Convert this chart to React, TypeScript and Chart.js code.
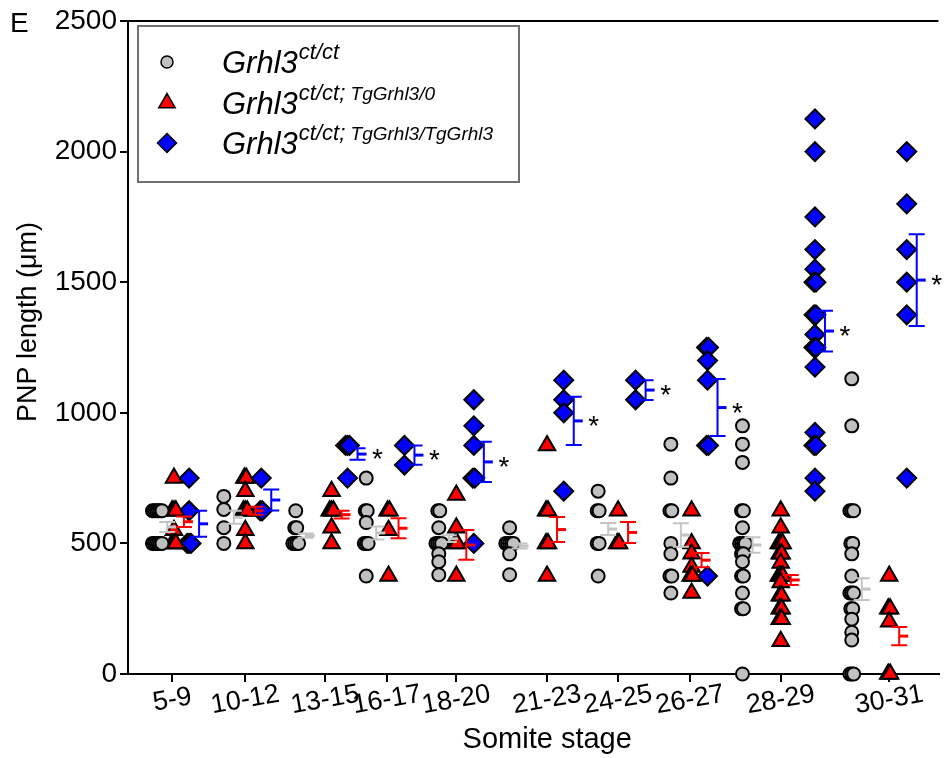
import React, { useEffect, useRef } from 'react';
import { Chart, registerables } from 'chart.js';

Chart.register(...registerables);

// ---------------- data ----------------
const stages = ['5-9', '10-12', '13-15', '16-17', '18-20', '21-23', '24-25', '26-27', '28-29', '30-31'];

// Grhl3 ct/ct (gray circles), PNP length in µm
const grayValues: number[][] = [
  [625, 625, 625, 625, 625, 625, 500, 500, 500, 500, 500, 500],
  [680, 630, 560, 500],
  [625, 560, 560, 500, 500, 500, 500],
  [750, 625, 625, 580, 500, 500, 500, 375],
  [625, 625, 560, 500, 500, 500, 500, 460, 430, 380],
  [560, 500, 500, 500, 500, 500, 460, 380],
  [700, 625, 625, 500, 500, 375],
  [880, 750, 625, 625, 500, 460, 375, 375, 310],
  [950, 880, 810, 625, 625, 560, 500, 500, 500, 500, 460, 460, 430, 375, 375, 310, 250, 250, 0],
  [1130, 950, 625, 625, 625, 500, 500, 460, 375, 310, 310, 310, 250, 250, 210, 160, 130, 0, 0, 0],
];
// Grhl3 ct/ct; TgGrhl3/0 (red triangles)
const redValues: number[][] = [
  [750, 625, 625, 625, 550, 500, 500, 500],
  [750, 750, 700, 625, 625, 625, 550, 500],
  [700, 625, 625, 625, 560, 500],
  [625, 625, 550, 375],
  [685, 560, 500, 500, 375],
  [875, 625, 625, 500, 500, 375],
  [625, 500, 500],
  [625, 500, 460, 410, 375, 375, 310],
  [625, 560, 500, 500, 500, 460, 460, 425, 375, 375, 375, 350, 300, 300, 250, 250, 210, 210, 125],
  [375, 250, 250, 200, 0, 0],
];
// Grhl3 ct/ct; TgGrhl3/TgGrhl3 (blue diamonds)
const blueValues: number[][] = [
  [750, 625, 500, 500, 500],
  [750, 625, 625],
  [875, 875, 875, 750],
  [875, 800],
  [1050, 950, 875, 750, 750, 500],
  [1125, 1050, 1000, 700],
  [1125, 1050],
  [1250, 1250, 1200, 1125, 875, 875, 375],
  [2125, 2000, 1750, 1625, 1550, 1500, 1500, 1375, 1375, 1300, 1250, 1250, 1175, 925, 875, 875, 750, 700],
  [2000, 1800, 1625, 1500, 1375, 750],
];

// mean ± SEM as drawn in the reference
const grayMean = [563, 600, 530, 540, 518, 490, 555, 532, 494, 325];
const graySem = [19, 25, 8, 25, 13, 10, 23, 45, 30, 42];
const redMean = [583, 625, 610, 558, 494, 553, 542, 436, 360, 145];
const redSem = [20, 15, 15, 38, 57, 48, 40, 27, 19, 35];
const blueMean = [575, 666, 842, 838, 812, 969, 1087, 1020, 1313, 1508];
const blueSem = [50, 40, 22, 37, 77, 92, 38, 109, 78, 176];
const blueSignificant = [false, false, true, true, true, true, true, true, true, true];

const yTicks = [0, 500, 1000, 1500, 2000, 2500];

// ---------------- layout (axis units / styles) ----------------
const stageCenter = [0, 0.916, 1.919, 2.694, 3.565, 4.704, 5.596, 6.499, 7.638, 9.0];
const grayShift = [-0.19, -0.27, -0.37, -0.26, -0.22, -0.47, -0.25, -0.24, -0.48, -0.47];
const redShift = [0.02, 0, 0.08, 0.02, 0, 0, 0, 0.02, 0, 0];
const blueShift = [0.21, 0.2, 0.28, 0.22, 0.22, 0.21, 0.22, 0.22, 0.43, 0.22];
const X_MIN = -0.557;
const X_MAX = 9.619;
const STACK_STEP = 0.024;

const GRAY = '#c0c0c0';
const RED = '#ff0000';
const BLUE = '#0000ff';
const GRAY_BAR = '#c4c4c4';
const FONT = '"Liberation Sans", Arial, Helvetica, sans-serif';

function stackOffsets(values: number[]): number[] {
  const counts = new Map<number, number>();
  values.forEach((v) => counts.set(v, (counts.get(v) || 0) + 1));
  const seen = new Map<number, number>();
  return values.map((v) => {
    const n = counts.get(v) || 1;
    const k = seen.get(v) || 0;
    seen.set(v, k + 1);
    return (k - (n - 1) / 2) * STACK_STEP;
  });
}

function buildPoints(groups: number[][], shift: number[]) {
  const pts: { x: number; y: number }[] = [];
  groups.forEach((vals, i) => {
    const offs = stackOffsets(vals);
    vals.forEach((v, j) => pts.push({ x: stageCenter[i] + shift[i] + offs[j], y: v }));
  });
  return pts;
}

const errorGroups = [
  { mean: grayMean, sem: graySem, shift: grayShift, color: GRAY_BAR, sig: null as boolean[] | null },
  { mean: redMean, sem: redSem, shift: redShift, color: RED, sig: null as boolean[] | null },
  { mean: blueMean, sem: blueSem, shift: blueShift, color: BLUE, sig: blueSignificant },
];

const errorBarPlugin = {
  id: 'errorBars',
  afterDatasetsDraw(chart: any) {
    const { ctx } = chart;
    const xs = chart.scales.x;
    const ys = chart.scales.y;
    ctx.save();
    errorGroups.forEach((g) => {
      g.mean.forEach((m, i) => {
        const cx = xs.getPixelForValue(stageCenter[i] + g.shift[i]) + 10;
        const yT = ys.getPixelForValue(m + g.sem[i]);
        const yB = ys.getPixelForValue(m - g.sem[i]);
        const yM = ys.getPixelForValue(m);
        ctx.strokeStyle = g.color;
        ctx.lineWidth = 2;
        ctx.beginPath();
        ctx.moveTo(cx, yT);
        ctx.lineTo(cx, yB);
        ctx.moveTo(cx - 8, yT);
        ctx.lineTo(cx + 8, yT);
        ctx.moveTo(cx - 8, yB);
        ctx.lineTo(cx + 8, yB);
        ctx.stroke();
        ctx.lineWidth = 3;
        ctx.beginPath();
        ctx.moveTo(cx, yM);
        ctx.lineTo(cx + 9, yM);
        ctx.stroke();
        if (g.sig && g.sig[i]) {
          ctx.fillStyle = '#000';
          ctx.font = `28px ${FONT}`;
          ctx.textAlign = 'center';
          ctx.textBaseline = 'alphabetic';
          ctx.fillText('*', cx + 20, yM + 14);
        }
      });
    });
    ctx.restore();
  },
};

const legendItems = [
  { shape: 'circle', fill: GRAY, sup1: 'ct/ct', sup2: '' },
  { shape: 'triangle', fill: RED, sup1: 'ct/ct;', sup2: ' TgGrhl3/0' },
  { shape: 'diamond', fill: BLUE, sup1: 'ct/ct;', sup2: ' TgGrhl3/TgGrhl3' },
];

function drawMarker(ctx: CanvasRenderingContext2D, shape: string, x: number, y: number, fill: string) {
  ctx.beginPath();
  if (shape === 'circle') {
    ctx.arc(x, y, 6, 0, Math.PI * 2);
  } else if (shape === 'triangle') {
    const r = 9.5;
    ctx.moveTo(x, y - r);
    ctx.lineTo(x + r * Math.sin((2 * Math.PI) / 3), y + r * 0.5);
    ctx.lineTo(x - r * Math.sin((2 * Math.PI) / 3), y + r * 0.5);
    ctx.closePath();
  } else {
    const r = 9.5;
    ctx.moveTo(x, y - r);
    ctx.lineTo(x + r, y);
    ctx.lineTo(x, y + r);
    ctx.lineTo(x - r, y);
    ctx.closePath();
  }
  ctx.fillStyle = fill;
  ctx.fill();
  ctx.lineWidth = 1.5;
  ctx.strokeStyle = '#000';
  ctx.stroke();
}

const decorPlugin = {
  id: 'decor',
  afterDraw(chart: any) {
    const { ctx, chartArea } = chart;
    const xs = chart.scales.x;
    ctx.save();
    // top frame line
    ctx.strokeStyle = '#000';
    ctx.lineWidth = 2;
    ctx.beginPath();
    ctx.moveTo(chartArea.left, chartArea.top);
    ctx.lineTo(chartArea.right, chartArea.top);
    ctx.stroke();

    // panel letter
    ctx.fillStyle = '#000';
    ctx.font = `28px ${FONT}`;
    ctx.textAlign = 'left';
    ctx.textBaseline = 'alphabetic';
    ctx.fillText('E', 10, 32);

    // y title
    ctx.save();
    ctx.translate(29, 322);
    ctx.rotate(-Math.PI / 2);
    ctx.font = `27px ${FONT}`;
    ctx.textAlign = 'center';
    ctx.textBaseline = 'middle';
    ctx.fillText('PNP length (\u03bcm)', 0, 0);
    ctx.restore();

    // x tick labels (slanted)
    ctx.font = `27px ${FONT}`;
    ctx.textAlign = 'center';
    ctx.textBaseline = 'middle';
    stages.forEach((s, i) => {
      const x = xs.getPixelForValue(stageCenter[i]);
      ctx.save();
      ctx.translate(x, chartArea.bottom + 26);
      ctx.rotate((-10 * Math.PI) / 180);
      ctx.fillText(s, 0, 0);
      ctx.restore();
    });

    // x title
    ctx.font = `29px ${FONT}`;
    ctx.textAlign = 'center';
    ctx.textBaseline = 'alphabetic';
    ctx.fillText('Somite stage', (chartArea.left + chartArea.right) / 2 + 14, 748);

    // legend box
    ctx.fillStyle = '#fff';
    ctx.fillRect(138, 26, 381, 156);
    ctx.strokeStyle = '#707070';
    ctx.lineWidth = 2;
    ctx.strokeRect(138, 26, 381, 156);
    const rows = [62, 103, 143];
    legendItems.forEach((it, k) => {
      const y = rows[k];
      drawMarker(ctx, it.shape, 167, y, it.fill);
      ctx.fillStyle = '#000';
      ctx.textAlign = 'left';
      ctx.textBaseline = 'alphabetic';
      ctx.font = `italic 31px ${FONT}`;
      const base = y + 11;
      ctx.fillText('Grhl3', 222, base);
      let x = 222 + ctx.measureText('Grhl3').width + 1;
      ctx.font = `italic 22px ${FONT}`;
      ctx.fillText(it.sup1, x, base - 14);
      x += ctx.measureText(it.sup1).width;
      if (it.sup2) {
        ctx.font = `italic 19px ${FONT}`;
        ctx.fillText(it.sup2, x, base - 14);
      }
    });
    ctx.restore();
  },
};

export default function App() {
  const canvasRef = useRef<HTMLCanvasElement | null>(null);

  useEffect(() => {
    const canvas = canvasRef.current;
    if (!canvas) return;
    const common = { borderColor: '#000', borderWidth: 2, clip: false as any, showLine: false };
    const chart = new Chart(canvas, {
      type: 'scatter',
      data: {
        datasets: [
          {
            label: 'Grhl3 ct/ct',
            data: buildPoints(grayValues, grayShift),
            pointStyle: 'circle',
            pointRadius: 6.5,
            pointBackgroundColor: GRAY,
            backgroundColor: GRAY,
            ...common,
          },
          {
            label: 'Grhl3 ct/ct; TgGrhl3/0',
            data: buildPoints(redValues, redShift),
            pointStyle: 'triangle',
            pointRadius: 9.5,
            pointBackgroundColor: RED,
            backgroundColor: RED,
            ...common,
          },
          {
            label: 'Grhl3 ct/ct; TgGrhl3/TgGrhl3',
            data: buildPoints(blueValues, blueShift),
            pointStyle: 'rectRot',
            pointRadius: 9.5,
            pointBackgroundColor: BLUE,
            backgroundColor: BLUE,
            ...common,
          },
        ],
      },
      options: {
        responsive: false,
        animation: false,
        devicePixelRatio: 1,
        layout: { padding: { top: 21, left: 0, right: 0, bottom: 0 } },
        plugins: {
          legend: { display: false },
          tooltip: { enabled: false },
          title: { display: false },
        },
        elements: { point: { hoverRadius: 0 } as any },
        scales: {
          x: {
            type: 'linear',
            min: X_MIN,
            max: X_MAX,
            afterBuildTicks: (scale: any) => {
              scale.ticks = stageCenter.map((v) => ({ value: v }));
            },
            afterFit: (scale: any) => {
              scale.height = 84;
            },
            ticks: { display: false },
            grid: { display: true, drawOnChartArea: false, drawTicks: true, tickLength: 8, color: '#000', lineWidth: 2 },
            border: { display: true, color: '#000', width: 2 },
          },
          y: {
            type: 'linear',
            min: 0,
            max: 2500,
            afterBuildTicks: (scale: any) => {
              scale.ticks = yTicks.map((v) => ({ value: v }));
            },
            afterFit: (scale: any) => {
              scale.width = 128;
            },
            ticks: {
              color: '#000',
              font: { size: 28, family: FONT },
              padding: 3,
              callback: (v: any) => String(v),
            },
            grid: { display: true, drawOnChartArea: false, drawTicks: true, tickLength: 8, color: '#000', lineWidth: 2 },
            border: { display: true, color: '#000', width: 2 },
          },
        },
      },
      plugins: [errorBarPlugin, decorPlugin],
    });
    return () => chart.destroy();
  }, []);

  return (
    <div style={{ position: 'absolute', left: 0, top: 0, width: 950, height: 758, background: '#fff' }}>
      <canvas ref={canvasRef} width={950} height={758} style={{ display: 'block' }} />
    </div>
  );
}
